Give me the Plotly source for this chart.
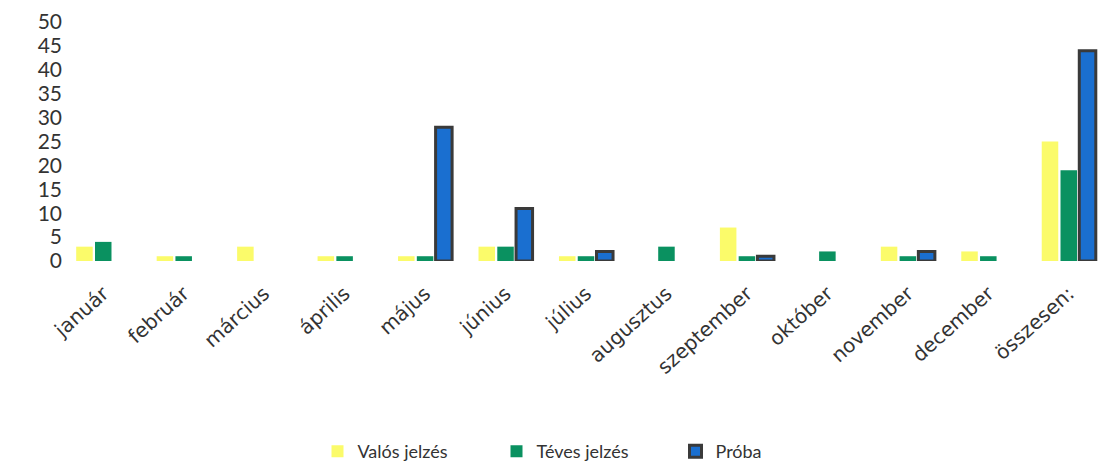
import plotly.graph_objects as go

# Havi bontás (beolvasott ábráról becsült értékek)
honapok = ['január', 'február', 'március', 'április', 'május', 'június', 'július',
           'augusztus', 'szeptember', 'október', 'november', 'december', 'összesen:']
valos = [3, 1, 3, 1, 1, 3, 1, None, 7, None, 3, 2, 25]
teves = [4, 1, None, 1, 1, 3, 1, 3, 1, 2, 1, 1, 19]
proba = [None, None, None, None, 28, 11, 2, None, 1, None, 2, None, 44]

y_ticks = [0, 5, 10, 15, 20, 25, 30, 35, 40, 45, 50]

fig = go.Figure()
fig.add_trace(go.Bar(x=honapok, y=valos, name='Valós jelzés',
                     marker=dict(color='#fbfb6a', line=dict(width=0))))
fig.add_trace(go.Bar(x=honapok, y=teves, name='Téves jelzés',
                     marker=dict(color='#0a9160', line=dict(width=0))))
fig.add_trace(go.Bar(x=honapok, y=proba, name='Próba',
                     marker=dict(color='#1a6fd0', line=dict(color='#3a3a3a', width=3))))

fig.update_layout(
    width=1111, height=475,
    barmode='group', bargap=0.3, bargroupgap=0.12,
    plot_bgcolor='white', paper_bgcolor='white',
    font=dict(family='Lato, Open Sans, sans-serif', color='#333333'),
    margin=dict(l=55, r=10, t=14, b=222, autoexpand=False),
    showlegend=True,
    legend=dict(orientation='h', x=0.5, xanchor='center', y=-0.72, yanchor='top',
                font=dict(size=18, color='#333333'), traceorder='normal',
                entrywidth=134, entrywidthmode='pixels'),
)
fig.update_xaxes(tickangle=-42, tickfont=dict(family='DejaVu Sans',
                                              size=20, color='#333333'),
                 ticklabelstandoff=16, automargin=False,
                 showgrid=False, showline=False, zeroline=False)
fig.update_yaxes(range=[0, 50], tickvals=y_ticks, tickfont=dict(size=21, color='#333333'),
                 automargin=False,
                 showgrid=False, showline=False, zeroline=False, ticks='')

fig.write_html("out.html")
